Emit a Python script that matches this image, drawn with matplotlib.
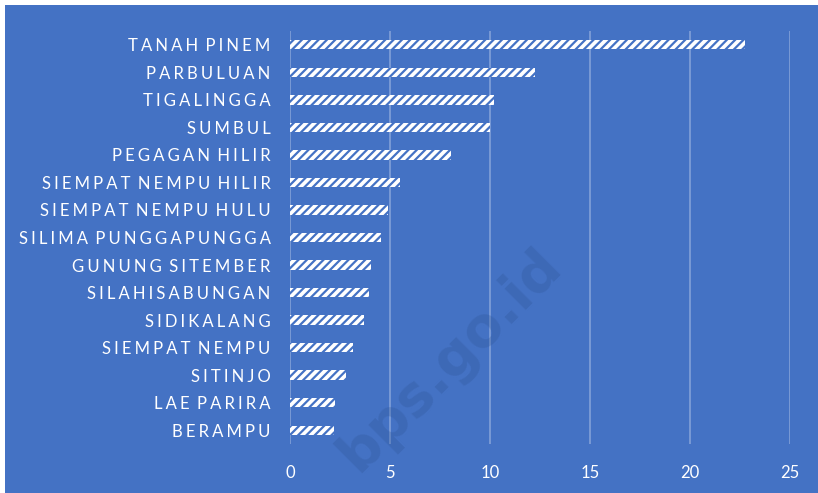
import matplotlib.pyplot as plt
from matplotlib.patches import Rectangle

# Data
kecamatan = ["TANAH PINEM", "PARBULUAN", "TIGALINGGA", "SUMBUL", "PEGAGAN HILIR",
             "SIEMPAT NEMPU HILIR", "SIEMPAT NEMPU HULU", "SILIMA PUNGGAPUNGGA",
             "GUNUNG SITEMBER", "SILAHISABUNGAN", "SIDIKALANG", "SIEMPAT NEMPU",
             "SITINJO", "LAE PARIRA", "BERAMPU"]
nilai = [22.75, 12.25, 10.2, 10.0, 8.05, 5.5, 4.9, 4.55, 4.05, 3.97, 3.72,
         3.13, 2.78, 2.27, 2.2]
xticks = [0, 5, 10, 15, 20, 25]

bg = "#4472C4"
plt.rcParams["font.family"] = ["Lato", "DejaVu Sans"]
plt.rcParams["hatch.linewidth"] = 1.6


def spaced(s):
    # imitate letter spacing
    gap = "\u2009\u200a"
    return gap.join(s).replace(gap + " " + gap, " \u2009\u200a")


fig = plt.figure(figsize=(8.18, 4.93), dpi=100)
fig.patch.set_facecolor("white")
fig.patches.append(Rectangle((5 / 818, 0), 1, 1 - 5 / 493, transform=fig.transFigure,
                             facecolor=bg, edgecolor="none", zorder=-1))

ax = fig.add_axes([290 / 818, 1 - 444 / 493, 500 / 818, 413 / 493])
ax.set_facecolor(bg)

y = list(range(len(kecamatan)))
ax.barh(y, nilai, height=0.34, color="white", edgecolor=bg, hatch="////",
        linewidth=0, zorder=3)

ax.set_ylim(len(kecamatan) - 0.5, -0.5)
ax.set_xlim(0, 25)
ax.set_xticks(xticks)
ax.set_xticklabels([str(t) for t in xticks], color="white", fontsize=12)
ax.set_yticks(y)
ax.set_yticklabels([spaced(k) for k in kecamatan], color="white", fontsize=12)
ax.tick_params(axis="y", length=0, pad=14)
ax.tick_params(axis="x", length=0, pad=15)
ax.grid(axis="x", color="white", alpha=0.3, linewidth=1.3, zorder=0)
for s in ax.spines.values():
    s.set_visible(False)

# watermark
fig.text(450 / 818, 1 - 360 / 493, "bps.go.id", rotation=45,
         fontsize=40, fontweight="bold", color="#2f5597", alpha=0.3,
         ha="center", va="center", family="DejaVu Sans")

fig.savefig("out.png", dpi=100, facecolor=fig.get_facecolor())
